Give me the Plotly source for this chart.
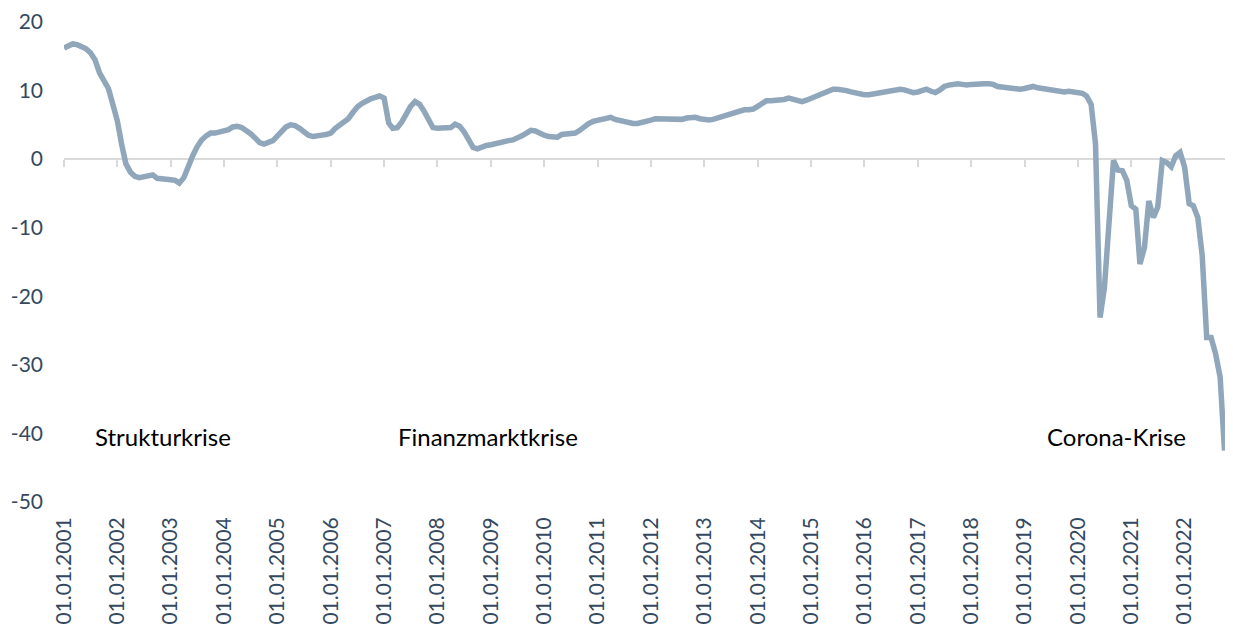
import pandas as pd
import plotly.graph_objects as go

# ----- Data ----- #
# monthly values, Jan 2001 - Oct 2022
values_2001_2007 = [
    16.2, 16.5, 16.8, 16.7, 16.5, 16.1, 15.5, 14.5, 12.6, 11.4, 10.3, 8.0,
    5.6, 2.0, -0.7, -1.9, -2.5, -2.7, -2.6, -2.5, -2.3, -2.8, -2.8, -3.0,
    -3.0, -3.1, -3.5, -2.7, -1.0, 0.5, 1.8, 2.8, 3.4, 3.8, 3.8, 3.9,
    4.0, 4.3, 4.7, 4.8, 4.6, 4.2, 3.7, 3.1, 2.4, 2.2, 2.4, 2.7,
    3.4, 4.1, 4.7, 5.0, 4.9, 4.5, 4.0, 3.5, 3.3, 3.3, 3.5, 3.6,
    3.8, 4.5, 5.0, 5.4, 5.9, 6.8, 7.6, 8.1, 8.5, 8.8, 9.0, 9.2,
    8.9, 5.3, 4.5, 4.6, 5.4, 6.6, 7.7, 8.4, 8.0, 7.0, 5.8, 4.6,
]
values_2008_2014 = [
    4.5, 4.5, 4.6, 4.6, 5.1, 4.8, 4.0, 2.9, 1.7, 1.5, 1.8, 2.0,
    2.1, 2.3, 2.4, 2.5, 2.7, 2.8, 3.0, 3.4, 3.8, 4.2, 4.1, 3.7,
    3.5, 3.3, 3.2, 3.2, 3.6, 3.7, 3.6, 3.8, 4.2, 4.8, 5.2, 5.5,
    5.7, 5.8, 6.0, 6.1, 5.8, 5.6, 5.5, 5.4, 5.2, 5.2, 5.3, 5.5,
    5.7, 5.9, 5.9, 5.9, 5.8, 5.7, 5.7, 5.8, 6.0, 6.1, 6.1, 5.9,
    5.7, 5.7, 5.8, 6.0, 6.1, 6.4, 6.7, 6.9, 7.1, 7.2, 7.2, 7.3,
    7.7, 8.2, 8.5, 8.5, 8.5, 8.5, 8.7, 8.9, 8.7, 8.4, 8.4, 8.6,
]
values_2015_2022 = [
    8.9, 9.2, 9.5, 9.8, 10.1, 10.2, 10.2, 10.2, 10.0, 9.8, 9.6, 9.4,
    9.4, 9.4, 9.5, 9.5, 9.6, 9.8, 10.0, 10.1, 10.2, 10.1, 9.8, 9.7,
    9.8, 10.0, 10.2, 9.9, 9.7, 10.1, 10.6, 10.8, 11.0, 11.0, 10.9, 10.8,
    10.9, 11.0, 11.1, 11.0, 11.0, 10.9, 10.6, 10.5, 10.4, 10.3, 10.3, 10.2,
    10.3, 10.5, 10.6, 10.4, 10.3, 10.2, 10.1, 9.9, 9.7, 9.8, 9.9, 9.8,
    9.7, 9.6, 9.2, 8.0, 2.2, -23.1, -18.7, -9.0, -0.2, -1.6, -1.7, -3.1,
    -6.8, -7.3, -15.3, -12.9, -6.1, -8.5, -7.0, -0.2, -0.5, -1.1, 0.5, 1.0,
    -1.2, -6.5, -6.8, -8.5, -14.0, -26.0, -26.0, -28.4, -31.8, -42.5,
]
values = values_2001_2007 + values_2008_2014 + values_2015_2022
months = pd.date_range("2001-01-01", periods=len(values), freq="MS")

y_ticks = [20, 10, 0, -10, -20, -30, -40, -50]
y_tick_labels = ["20", "10", "0", "-10", "-20", "-30", "-40", "-50"]

crisis_labels = ["Strukturkrise", "Finanzmarktkrise", "Corona-Krise"]
crisis_dates = ["2001-07-20", "2007-03-25", "2019-05-20"]
crisis_level = -40.5

LINE_COLOR = "#8FA6BB"
AXIS_COLOR = "#D9D9D9"
TEXT_COLOR = "#33495F"
FONT = "Lato, 'Open Sans', sans-serif"
x_range = ["2001-01-01", "2022-11-28"]

# ----- Plotting ----- #
fig = go.Figure()

fig.add_trace(
    go.Scatter(
        x=months,
        y=values,
        mode="lines",
        xaxis="x2",
        line=dict(color=LINE_COLOR, width=5.5),
        showlegend=False,
    )
)

for label, date in zip(crisis_labels, crisis_dates):
    fig.add_annotation(
        x=date,
        y=crisis_level,
        xref="x",
        yref="y",
        text=label,
        showarrow=False,
        xanchor="left",
        yanchor="middle",
        font=dict(family=FONT, size=24, color="#000000"),
    )

# Formatting
# the page body adds 8px around the figure, so margins are reduced by 8
fig.update_layout(
    width=1225,
    height=617,
    margin=dict(t=14, b=123, l=56, r=0),
    paper_bgcolor="white",
    plot_bgcolor="white",
    font=dict(family=FONT, size=21, color=TEXT_COLOR),
    xaxis=dict(
        type="date",
        range=x_range,
        tick0="2001-01-01",
        dtick="M12",
        tickformat="%d.%m.%Y",
        tickangle=-90,
        showgrid=False,
        showline=False,
        zeroline=False,
        ticks="",
        ticklabelstandoff=10,
    ),
    # zero line with the year ticks
    xaxis2=dict(
        type="date",
        range=x_range,
        overlaying="x",
        anchor="free",
        position=50 / 70,
        tick0="2001-01-01",
        dtick="M12",
        showticklabels=False,
        showgrid=False,
        zeroline=False,
        showline=True,
        linecolor=AXIS_COLOR,
        linewidth=2,
        ticks="outside",
        ticklen=7,
        tickwidth=2,
        tickcolor=AXIS_COLOR,
        layer="below traces",
    ),
    yaxis=dict(
        range=[-50, 20],
        tickvals=y_ticks,
        ticktext=y_tick_labels,
        showgrid=False,
        zeroline=False,
        showline=False,
        ticklabelstandoff=20,
    ),
)

fig.write_html("out.html")
